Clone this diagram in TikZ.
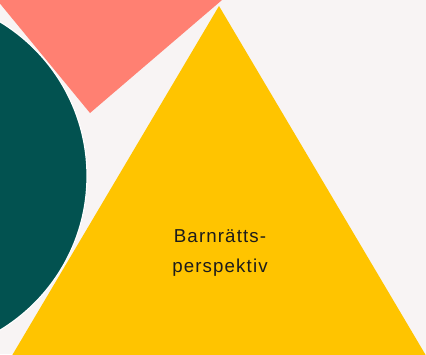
\documentclass[tikz,border=0pt]{standalone}
\usepackage{fontspec}
\newfontfamily\captionfont[LetterSpace=6]{Liberation Sans}
\definecolor{backcol}{HTML}{F8F4F4}
\definecolor{salmon}{HTML}{FF8072}
\definecolor{deepteal}{HTML}{025250}
\definecolor{sunyellow}{HTML}{FFC400}
\definecolor{inkcol}{HTML}{1C1C1C}
\tikzstyle{patch}=[draw=none]
\tikzstyle{disc}=[fill=deepteal,draw=white,line width=1.2pt]
\tikzstyle{caption}=[font=\captionfont\fontsize{18.7}{29.5}\selectfont,text=inkcol,align=center,inner sep=0pt]

\begin{document}
\begin{tikzpicture}[x=1pt,y=-1pt]
	% First we fix the page and its background
	\fill[backcol] (0,0) rectangle (426,354);
	\useasboundingbox (0,0) rectangle (426,354);

	% Then the three pieces, back to front
	\fill[patch,salmon] (-11.2,-10) -- (233.7,-10) -- (90,113) -- cycle;
	\fill[patch,sunyellow] (219,6) -- (7,364) -- (431,364) -- cycle;
	\path[disc] (-93,176) circle (180);

	% And the text on the triangle
	\node[caption] (rights) at (220,253) {Barnrätts-\\perspektiv};
\end{tikzpicture}
\end{document}
